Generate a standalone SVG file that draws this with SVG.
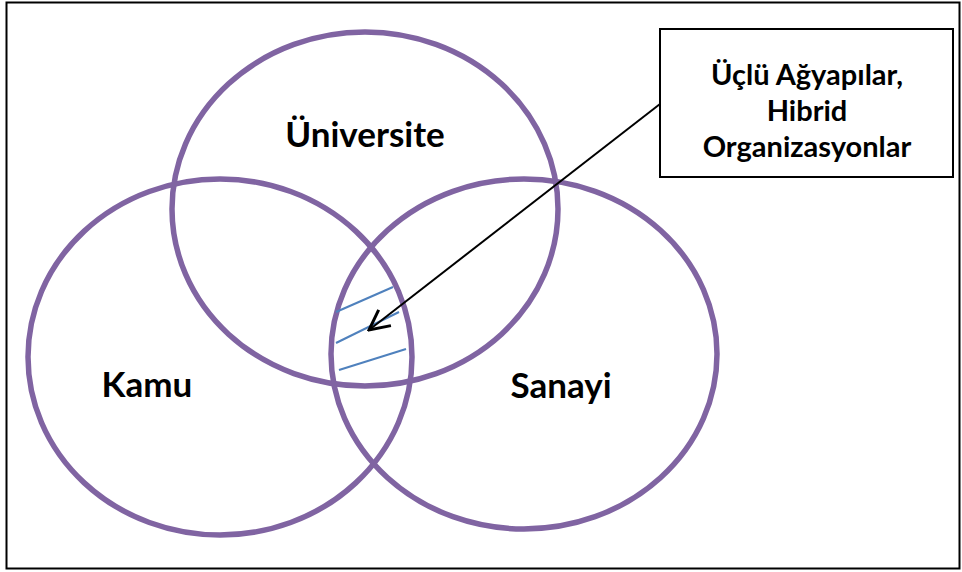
<svg xmlns="http://www.w3.org/2000/svg" width="962" height="572" viewBox="0 0 962 572">
<defs>
<style>
.ring{fill:none;stroke:#8064A2;stroke-width:5.5}
.lbl{font-family:"Lato","Liberation Sans",sans-serif;font-weight:bold;fill:#000}
.big{font-size:35px}
.sm{font-size:29px}
.hatch{stroke:#4F81BD;stroke-width:2;fill:none}
</style>
<marker id="arr" viewBox="0 0 24 24" refX="22" refY="12" markerWidth="24" markerHeight="24" markerUnits="userSpaceOnUse" orient="auto">
<path d="M2,2 L22,12 L2,22" fill="none" stroke="#000" stroke-width="3"/>
</marker>
</defs>
<rect x="0" y="0" width="962" height="572" fill="#fff"/>
<rect x="6.5" y="2.5" width="953" height="566" fill="none" stroke="#000" stroke-width="2"/>
<g id="universite">
<ellipse class="ring" cx="365" cy="209" rx="193" ry="177"/>
<text class="lbl big" x="365" y="147" text-anchor="middle">Üniversite</text>
</g>
<g id="kamu">
<ellipse class="ring" cx="220" cy="357" rx="192" ry="178"/>
<text class="lbl big" x="147" y="397" text-anchor="middle">Kamu</text>
</g>
<g id="sanayi">
<ellipse class="ring" cx="524" cy="354" rx="193" ry="175"/>
<text class="lbl big" x="561" y="398" text-anchor="middle">Sanayi</text>
</g>
<g id="hatch">
<line class="hatch" x1="336" y1="312" x2="393" y2="287"/>
<line class="hatch" x1="336" y1="343" x2="399" y2="312"/>
<line class="hatch" x1="339" y1="370" x2="406" y2="349"/>
</g>
<g id="label-box">
<rect x="660" y="29" width="293" height="148" fill="#fff" stroke="#000" stroke-width="2"/>
<text class="lbl sm" x="807" y="85" text-anchor="middle">Üçlü Ağyapılar,</text>
<text class="lbl sm" x="807" y="121" text-anchor="middle">Hibrid</text>
<text class="lbl sm" x="807" y="157" text-anchor="middle">Organizasyonlar</text>
</g>
<g id="connectors">
<line x1="660" y1="104" x2="369" y2="330" stroke="#000" stroke-width="2" marker-end="url(#arr)"/>
</g>
</svg>
